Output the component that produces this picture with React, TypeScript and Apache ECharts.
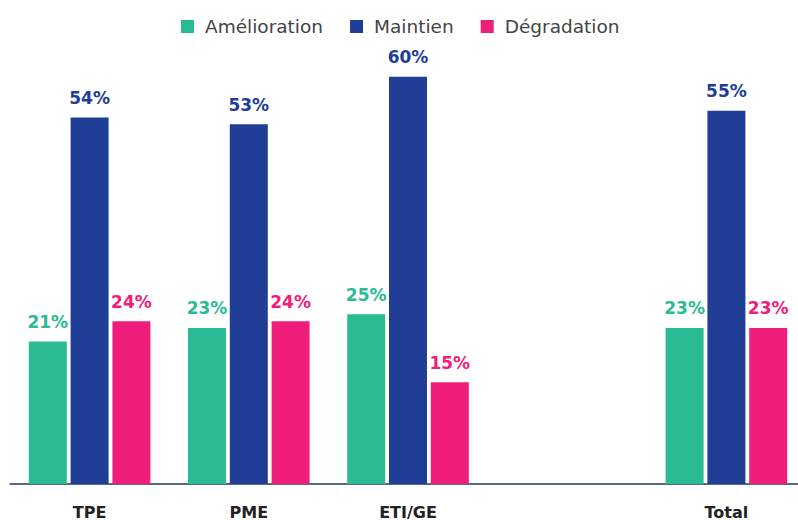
import React, { useEffect, useRef } from "react";
import * as echarts from "echarts";

const categories = ["TPE", "PME", "ETI/GE", "", "Total"];
const amelioration = [21, 23, 25, null, 23];
const maintien = [54, 53, 60, null, 55];
const degradation = [24, 24, 15, null, 23];
const seriesNames = ["Amélioration", "Maintien", "Dégradation"];
const colors = ["#2BBB94", "#213E96", "#EE1E7A"];

const FONT = "'DejaVu Sans', 'Noto Sans', sans-serif";

export default function App() {
  const ref = useRef<HTMLDivElement>(null);
  useEffect(() => {
    if (!ref.current) return;
    const chart = echarts.init(ref.current, undefined, { renderer: "svg" });
    const datas = [amelioration, maintien, degradation];
    chart.setOption({
      animation: false,
      textStyle: { fontFamily: FONT },
      legend: {
        top: 12,
        left: 176,
        itemWidth: 13,
        itemHeight: 13,
        itemGap: 27,
        icon: "rect",
        textStyle: {
          fontSize: 18.5,
          color: "#444",
          fontFamily: FONT,
          padding: [0, 0, 0, 6],
        },
        data: seriesNames,
      },
      grid: { left: 10, right: 0, top: 9, bottom: 34, containLabel: false },
      xAxis: {
        type: "category",
        data: categories,
        axisLine: { show: true, lineStyle: { color: "#1F3A5F", width: 1.5 } },
        axisTick: { show: false },
        axisLabel: {
          margin: 20,
          fontSize: 16,
          fontWeight: "bold",
          color: "#222",
          fontFamily: FONT,
        },
      },
      yAxis: { type: "value", min: 0, max: 70, show: false, splitLine: { show: false } },
      series: seriesNames.map((name, i) => ({
        name,
        type: "bar",
        data: datas[i],
        barWidth: 38,
        barGap: "10%",
        itemStyle: { color: colors[i] },
        label: {
          show: true,
          position: "top",
          distance: 11,
          formatter: "{c}%",
          fontSize: 17,
          fontWeight: "bold",
          color: colors[i],
          fontFamily: FONT,
        },
      })),
    });
    return () => chart.dispose();
  }, []);
  return (
    <div
      style={{
        position: "absolute",
        left: 0,
        top: 0,
        width: 798,
        height: 520,
        overflow: "hidden",
      }}
    >
      <div ref={ref} style={{ width: 806, height: 520 }} />
    </div>
  );
}
